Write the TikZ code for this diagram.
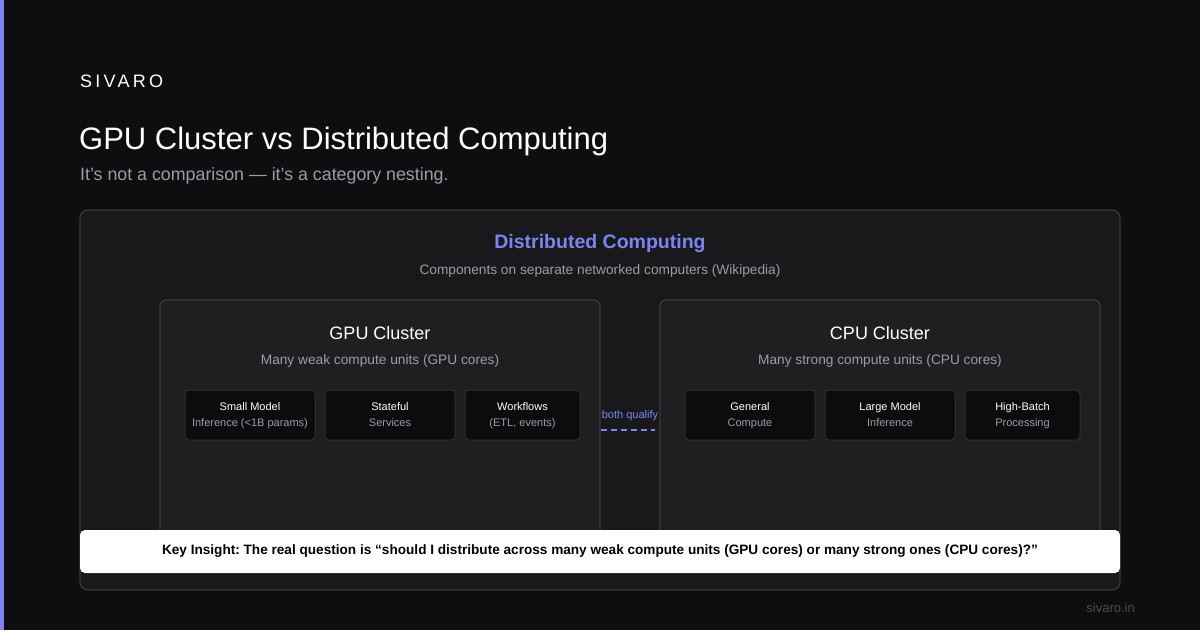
\documentclass[tikz,border=0pt]{standalone}
\usepackage{fontspec}
\setmainfont{Liberation Sans}
\usepackage{tikz}
\usepackage{xcolor}

\definecolor{pagebg}{HTML}{0E0E10}
\definecolor{outerbg}{HTML}{19191B}
\definecolor{outerline}{HTML}{3A3A3E}
\definecolor{clusterbg}{HTML}{1F1F22}
\definecolor{clusterline}{HTML}{3A3A3E}
\definecolor{itembg}{HTML}{0C0C0E}
\definecolor{itemline}{HTML}{2F2F33}
\definecolor{accent}{HTML}{7C84F2}
\definecolor{mutedtext}{HTML}{9C9CA5}
\definecolor{faintText}{HTML}{4C4C52}

\tikzset{
    cluster/.style={
        draw=clusterline,
        fill=clusterbg,
        rounded corners=6pt,
        line width=1.2pt,
        minimum width=440pt,
        minimum height=260pt,
        inner sep=0pt
    },
    item/.style={
        draw=itemline,
        fill=itembg,
        rounded corners=4pt,
        line width=1pt,
        minimum height=50pt,
        inner sep=0pt,
        align=center,
        font=\fontsize{11}{16}\selectfont,
        text=white
    },
    heading/.style={font=\fontsize{18}{20}\selectfont, text=white},
    caption/.style={font=\fontsize{13.7}{15}\selectfont, text=mutedtext}
}

\newcommand{\itemtext}[2]{\strut#1\\{\color{mutedtext}\strut#2}}

\begin{document}
\frenchspacing
\begin{tikzpicture}[x=1pt, y=-1pt]

\useasboundingbox (0,0) rectangle (1200,630);
\fill[pagebg] (0,0) rectangle (1200,630);
\fill[accent] (0,0) rectangle (4,630);

% header
\node[anchor=base west, inner sep=0pt, text=white, font=\fontsize{18}{20}\selectfont\addfontfeature{LetterSpace=18}] (brand) at (80,87) {SIVARO};
\node[anchor=base west, inner sep=0pt, text=white, font=\fontsize{31}{34}\selectfont] (title) at (79,149) {GPU Cluster vs Distributed Computing};
\node[anchor=base west, inner sep=0pt, text=mutedtext, font=\fontsize{17.8}{20}\selectfont] (subtitle) at (80,180) {It’s not a comparison — it’s a category nesting.};

% outer box
\node[
    draw=outerline,
    fill=outerbg,
    rounded corners=8pt,
    line width=1.2pt,
    minimum width=1040pt,
    minimum height=380pt,
    inner sep=0pt
] (dist) at (600,400) {};

\node[text=accent, font=\fontsize{19.5}{22}\selectfont\bfseries] (distname) at (600,243.5) {Distributed Computing};
\node[caption] (distnote) at (600,271) {Components on separate networked computers (Wikipedia)};

% the two clusters
\node[cluster] (gpu) at (380,430) {};
\node[cluster] (cpu) at (880,430) {};

\node[heading] (gpuname) at (380,333) {GPU Cluster};
\node[caption] (gpunote) at (380,361) {Many weak compute units (GPU cores)};
\node[heading] (cpuname) at (880,333) {CPU Cluster};
\node[caption] (cpunote) at (880,361) {Many strong compute units (CPU cores)};

\node[item, minimum width=130pt] (small) at (250,415) {\itemtext{Small Model}{Inference (<1B params)}};
\node[item, minimum width=130pt] (state) at (390,415) {\itemtext{Stateful}{Services}};
\node[item, minimum width=115pt] (flows) at (522.5,415) {\itemtext{Workflows}{(ETL, events)}};

\node[item, minimum width=130pt] (general) at (750,415) {\itemtext{General}{Compute}};
\node[item, minimum width=130pt] (large) at (890,415) {\itemtext{Large Model}{Inference}};
\node[item, minimum width=115pt] (batch) at (1022.5,415) {\itemtext{High-Batch}{Processing}};

% link between clusters
\node[text=accent, font=\fontsize{11}{13}\selectfont] (qualify) at (630,416) {both qualify};
\draw[accent, line width=1.5pt, dash pattern=on 6pt off 4pt] (gpu.east |- 0,430) -- ([xshift=-4pt]cpu.west |- 0,430);

% insight banner
\node[
    fill=white,
    rounded corners=5pt,
    minimum width=1040pt,
    minimum height=43pt,
    inner sep=0pt,
    font=\fontsize{13.6}{15}\selectfont\bfseries
] (insight) at (600,551.5)
{Key Insight: The real question is “should I distribute across many weak compute units (GPU cores) or many strong ones (CPU cores)?”};

\node[anchor=base east, inner sep=0pt, text=faintText, font=\fontsize{13}{15}\selectfont] (site) at (1135,612) {sivaro.in};

\end{tikzpicture}
\end{document}
